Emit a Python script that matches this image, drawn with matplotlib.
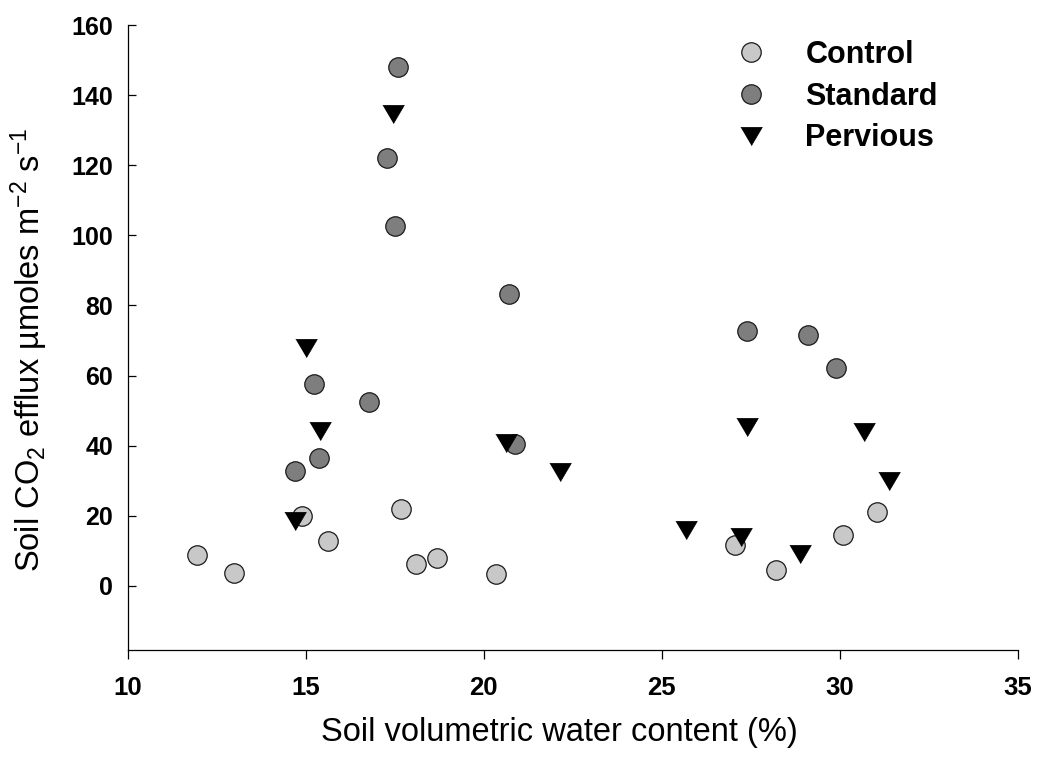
import matplotlib
matplotlib.use("Agg")
import matplotlib.pyplot as plt

plt.rcParams['font.family'] = ['Liberation Sans', 'DejaVu Sans']
plt.rcParams['mathtext.default'] = 'regular'

control_x = [11.94, 13.0, 14.9, 15.62, 17.69, 18.11, 18.69, 20.34, 27.06, 28.21, 30.08, 31.03]
control_y = [8.8, 3.7, 19.9, 12.7, 21.8, 6.3, 8.0, 3.3, 11.7, 4.4, 14.4, 21.2]
standard_x = [14.69, 15.24, 15.39, 16.78, 17.29, 17.52, 17.6, 20.7, 20.88, 27.39, 29.1, 29.88]
standard_y = [32.8, 57.7, 36.5, 52.5, 122.0, 102.8, 147.9, 83.3, 40.4, 72.6, 71.5, 62.1]
pervious_x = [14.7, 15.02, 15.4, 17.44, 20.63, 22.13, 25.67, 27.23, 27.39, 28.88, 30.67, 31.38]
pervious_y = [18.5, 67.8, 44.1, 134.6, 40.8, 32.5, 15.9, 14.0, 45.4, 9.0, 43.9, 30.0]

x_ticks = [10, 15, 20, 25, 30, 35]
y_ticks = [0, 20, 40, 60, 80, 100, 120, 140, 160]

W, H = 1038, 760
fig = plt.figure(figsize=(W / 100, H / 100), dpi=100)
ax = fig.add_axes([127.5 / W, 1 - 650 / H, (1018 - 127.5) / W, (650 - 25) / H])

tri = [(-1, 0.85), (1, 0.85), (0, -0.85)]
ax.plot(control_x, control_y, 'o', ms=14, mfc='#c8c8c8', mec='#1a1a1a', mew=0.9,
        ls='none', label='Control')
ax.plot(standard_x, standard_y, 'o', ms=14, mfc='#7e7e7e', mec='#1a1a1a', mew=0.9,
        ls='none', label='Standard')
ax.plot(pervious_x, pervious_y, marker=tri, ms=15.5, mfc='black', mec='black', mew=0.5,
        ls='none', label='Pervious')

ax.set_xlim(10, 35)
ax.set_ylim(-18.3, 160)
ax.set_xticks(x_ticks)
ax.set_yticks(y_ticks)
ax.set_xticklabels([str(v) for v in x_ticks], fontsize=18.5, fontweight='bold')
ax.set_yticklabels([str(v) for v in y_ticks], fontsize=18, fontweight='bold')

for s in ['top', 'right']:
    ax.spines[s].set_visible(False)
for s in ['left', 'bottom']:
    ax.spines[s].set_linewidth(0.9)
ax.tick_params(axis='y', direction='in', length=6, width=0.9, pad=10.4)
ax.tick_params(axis='x', direction='out', length=6.5, width=0.9, pad=12)

ax.set_xlabel('Soil volumetric water content (%)', fontsize=23.5)
ax.xaxis.set_label_coords(0.485, -0.146)
ax.xaxis.label.set_va('baseline')
ax.set_ylabel('Soil CO$_2$ efflux µmoles m$^{-2}$ s$^{-1}$', fontsize=23.5)
ax.yaxis.set_label_coords(-0.087, 0.48)

leg = ax.legend(loc='upper left', bbox_to_anchor=(736 / W, 1 - 40 / H),
                bbox_transform=fig.transFigure, frameon=False, borderpad=0,
                borderaxespad=0, handlelength=1.0, handletextpad=1.27,
                labelspacing=0.38, prop={'family': 'Liberation Sans', 'weight': 'bold', 'size': 22})

fig.savefig('out.png', dpi=100)
